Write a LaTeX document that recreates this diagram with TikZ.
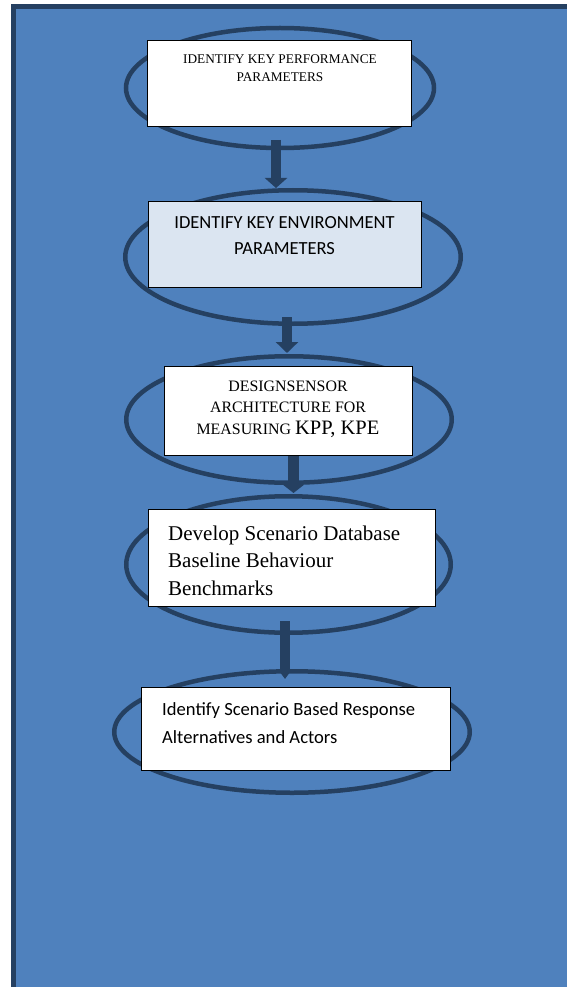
\documentclass[tikz,border=0pt]{standalone}
\usepackage{fontspec}
\setmainfont{Liberation Serif}
\newfontfamily\calib{Carlito}
\usetikzlibrary{shapes.geometric,arrows.meta,calc}
\definecolor{bgblue}{HTML}{4F81BD}
\definecolor{darkblue}{HTML}{254061}
\definecolor{lightbox}{HTML}{DBE5F1}
\tikzset{
  ell/.style={ellipse, draw=darkblue, line width=4.5pt, inner sep=0pt},
  stepbox/.style={rectangle, draw=black, line width=0.9pt, fill=white, inner sep=0pt},
  arr/.style={draw=darkblue, line width=10pt},
  txt/.style={inner sep=0pt, text=black},
}
\begin{document}
\begin{tikzpicture}[x=1pt,y=1pt]
\useasboundingbox (0,0) rectangle (567,-987);
\fill[white] (0,0) rectangle (567,-987);
\begin{scope}
\clip (0,0) rectangle (567,-987);
\draw[line width=5.3pt, draw=darkblue, fill=bgblue] (13.6,-6.6) rectangle (620,-1030);
\end{scope}

% ellipses
\node[ell, minimum width=308, minimum height=120] (e1) at (280,-88) {};
\node[ell, minimum width=335.5, minimum height=133.5] (e2) at (293,-257) {};
\node[ell, minimum width=325.5, minimum height=126.5] (e3) at (289,-419.5) {};
\node[ell, minimum width=324.5, minimum height=136.5] (e4) at (288.5,-564.5) {};
\node[ell, minimum width=355.5, minimum height=121.5] (e5) at (292,-732) {};

% arrows
\coordinate (a1s) at (276,-140);
\coordinate (a1e) at (276,-188);
\coordinate (a2s) at (287,-317);
\coordinate (a2e) at (287,-353);
\coordinate (a3s) at (293.5,-455);
\coordinate (a3e) at (293.5,-493);
\coordinate (a4s) at (285,-621);
\coordinate (a4e) at (285,-679);
\draw[arr, -{Triangle[width=22pt,length=10pt]}] (a1s) -- (a1e);
\draw[arr, -{Triangle[width=22pt,length=11pt]}] (a2s) -- (a2e);
\draw[arr, line width=11pt, -{Triangle[width=20pt,length=8pt]}] (a3s) -- (a3e);
\draw[arr, -{Triangle[width=14pt,length=10pt]}] (a4s) -- (a4e);

% boxes
\node[stepbox, minimum width=264, minimum height=86] (b1) at (279.8,-83.7) {};
\node[stepbox, fill=lightbox, minimum width=273, minimum height=86] (b2) at (284.5,-244) {};
\node[stepbox, minimum width=248, minimum height=89] (b3) at (288,-410.5) {};
\node[stepbox, minimum width=287, minimum height=97] (b4) at (291.5,-557.5) {};
\node[stepbox, minimum width=309, minimum height=83] (b5) at (295.5,-728.5) {};

% texts
\node[txt, align=center, font=\fontsize{13.3}{18}\selectfont] (t1) at (280,-68)
  {IDENTIFY KEY PERFORMANCE\\PARAMETERS};
\node[txt, align=center, font=\calib\fontsize{18.5}{26}\selectfont] (t2) at (284.5,-236)
  {IDENTIFY KEY ENVIRONMENT\\PARAMETERS};
\node[txt, align=center, font=\fontsize{15.9}{21}\selectfont] (t3) at (288,-409.5)
  {DESIGNSENSOR\\ARCHITECTURE FOR\\[1.5pt]MEASURING {\fontsize{20.5}{21}\selectfont KPP, KPE}};
\node[txt, align=left, anchor=west, font=\fontsize{21}{27.5}\selectfont] (t4) at (168,-560.5)
  {Develop Scenario Database\\Baseline Behaviour\\Benchmarks};
\node[txt, align=left, anchor=west, font=\calib\fontsize{18.6}{28}\selectfont] (t5) at (162,-723)
  {Identify Scenario Based Response\\Alternatives and Actors};
\end{tikzpicture}
\end{document}
